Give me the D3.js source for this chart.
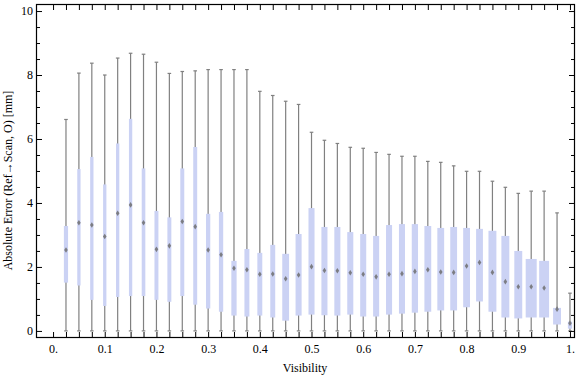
<!DOCTYPE html>
<html>
<head>
<meta charset="utf-8">
<script src="https://cdn.jsdelivr.net/npm/d3@7"></script>
<style>
  body { margin: 0; background: #fff; }
  text { font-family: "Liberation Serif", "Times New Roman", serif; }
</style>
</head>
<body>
<script>
// visibility positions of the 40 boxes
var visibility = d3.range(1, 41).map(function(k) { return +(k * 0.025).toFixed(3); });

var whiskerLow = visibility.map(function() { return 0; });
var whiskerHigh = [6.61, 8.06, 8.37, 8.00, 8.53, 8.68, 8.65, 8.40, 8.05, 8.11,
                   8.13, 8.17, 8.17, 8.17, 8.17, 7.49, 7.36, 7.18, 7.08, 6.21,
                   5.96, 5.86, 5.74, 5.71, 5.58, 5.52, 5.46, 5.46, 5.30, 5.27,
                   5.16, 4.99, 4.99, 4.68, 4.49, 4.30, 4.37, 4.37, 3.69, 1.18];
var q1 = [1.51, 1.42, 0.97, 0.78, 1.06, 1.09, 1.09, 0.97, 0.91, 1.09,
          0.82, 0.70, 0.60, 0.48, 0.45, 0.48, 0.42, 0.32, 0.48, 0.51,
          0.49, 0.48, 0.51, 0.45, 0.45, 0.51, 0.54, 0.57, 0.60, 0.64,
          0.64, 0.74, 0.92, 0.60, 0.42, 0.39, 0.42, 0.42, 0.20, 0.07];
var median = [2.53, 3.38, 3.31, 2.95, 3.68, 3.94, 3.38, 2.55, 2.66, 3.42,
              3.26, 2.53, 2.38, 1.96, 1.91, 1.77, 1.78, 1.63, 1.75, 2.01,
              1.89, 1.88, 1.82, 1.77, 1.69, 1.77, 1.79, 1.86, 1.91, 1.84,
              1.83, 2.03, 2.14, 1.83, 1.54, 1.38, 1.38, 1.34, 0.68, 0.24];
var q3 = [3.28, 5.06, 5.44, 4.58, 5.86, 6.63, 5.08, 3.75, 3.55, 5.08,
          5.75, 3.66, 3.72, 2.19, 2.56, 2.44, 2.69, 2.41, 3.03, 3.84,
          3.25, 3.25, 3.09, 3.03, 2.97, 3.31, 3.34, 3.34, 3.28, 3.22,
          3.25, 3.22, 3.19, 3.13, 2.97, 2.50, 2.25, 2.19, 0.72, 0.29];
// relative sample weight, shown as box width
var weight = [0.38, 0.30, 0.30, 0.30, 0.30, 0.30, 0.33, 0.36, 0.36, 0.36,
              0.36, 0.39, 0.39, 0.48, 0.45, 0.45, 0.45, 0.62, 0.55, 0.55,
              0.55, 0.55, 0.55, 0.55, 0.55, 0.55, 0.55, 0.57, 0.62, 0.62,
              0.62, 0.62, 0.62, 0.72, 0.72, 0.72, 1.00, 0.90, 0.72, 0.38];

var xTicks = d3.range(0, 41).map(function(k) { return +(k * 0.025).toFixed(3); });
var xLabels = { 0: "0.", 0.1: "0.1", 0.2: "0.2", 0.3: "0.3", 0.4: "0.4", 0.5: "0.5",
                0.6: "0.6", 0.7: "0.7", 0.8: "0.8", 0.9: "0.9", 1: "1." };
var yMajor = [0, 2, 4, 6, 8, 10];
var yMinor = d3.range(0, 21).map(function(k) { return k * 0.5; }).filter(function(v) { return v % 2 !== 0; });

var width = 576, height = 377;
var frame = { left: 36, right: 574, top: 4, bottom: 337 };

var svg = d3.select('body').append('svg')
    .attr('width', width)
    .attr('height', height);

var x = d3.scaleLinear().domain([-0.033, 1.0078]).range([frame.left, frame.right]);
var y = d3.scaleLinear().domain([-0.19, 10.22]).range([frame.bottom, frame.top]);
var w = d3.scaleLinear().domain([0, 1]).range([0, 11]);

var data = visibility.map(function(v, i) {
    return { v: v, lo: whiskerLow[i], q1: q1[i], med: median[i], q3: q3[i], hi: whiskerHigh[i], wt: weight[i] };
});

// boxes
var plot = svg.append('g').attr('id', 'plot');
var boxes = plot.selectAll('g.box').data(data).enter()
    .append('g').attr('class', 'box');

boxes.append('line')
    .attr('x1', function(d) { return x(d.v); })
    .attr('x2', function(d) { return x(d.v); })
    .attr('y1', function(d) { return y(d.lo); })
    .attr('y2', function(d) { return y(d.hi); })
    .attr('stroke', '#808080')
    .attr('stroke-width', 1.2);

boxes.selectAll('line.cap')
    .data(function(d) { return [{ v: d.v, val: d.lo }, { v: d.v, val: d.hi }]; })
    .enter().append('line')
    .attr('class', 'cap')
    .attr('x1', function(d) { return x(d.v) - 1.8; })
    .attr('x2', function(d) { return x(d.v) + 1.8; })
    .attr('y1', function(d) { return y(d.val); })
    .attr('y2', function(d) { return y(d.val); })
    .attr('stroke', '#808080')
    .attr('stroke-width', 1.2);

boxes.append('rect')
    .attr('x', function(d) { return x(d.v) - w(d.wt) / 2; })
    .attr('width', function(d) { return w(d.wt); })
    .attr('y', function(d) { return y(d.q3); })
    .attr('height', function(d) { return y(d.q1) - y(d.q3); })
    .attr('fill', '#cbd2f4');

boxes.append('path')
    .attr('d', function(d) {
        var cx = x(d.v), cy = y(d.med);
        return 'M' + (cx - 1.8) + ',' + cy + 'L' + cx + ',' + (cy - 2.8) +
               'L' + (cx + 1.8) + ',' + cy + 'L' + cx + ',' + (cy + 2.8) + 'Z';
    })
    .attr('fill', '#6f6f6f')
    .attr('opacity', 0.85);

// frame and axes
svg.append('rect')
    .attr('x', frame.left + 0.5)
    .attr('y', frame.top + 0.5)
    .attr('width', frame.right - frame.left)
    .attr('height', frame.bottom - frame.top)
    .attr('fill', 'none')
    .attr('stroke', '#000')
    .attr('stroke-width', 1.2);

function axisStyle(g) {
    g.select('.domain').remove();
    g.selectAll('.tick line').attr('stroke', '#000').attr('stroke-width', 1);
    g.selectAll('.tick text').attr('fill', '#000').style('font-size', '12px')
        .style('font-family', '"Liberation Serif", serif');
}

svg.append('g')
    .attr('transform', `translate(0, ${frame.bottom})`)
    .call(d3.axisBottom(x).tickValues(xTicks).tickSizeInner(-5).tickSizeOuter(0).tickPadding(7)
        .tickFormat(function(d) { return xLabels[d] !== undefined ? xLabels[d] : ''; }))
    .call(axisStyle);

svg.append('g')
    .attr('transform', `translate(0, ${frame.top + 1})`)
    .call(d3.axisTop(x).tickValues(xTicks).tickSizeInner(-5).tickSizeOuter(0).tickFormat(''))
    .call(axisStyle);

svg.append('g')
    .attr('transform', `translate(${frame.left + 1}, 0)`)
    .call(d3.axisLeft(y).tickValues(yMajor).tickSizeInner(-5).tickSizeOuter(0).tickPadding(4))
    .call(axisStyle);

svg.append('g')
    .attr('transform', `translate(${frame.left + 1}, 0)`)
    .call(d3.axisLeft(y).tickValues(yMinor).tickSizeInner(-3).tickSizeOuter(0).tickFormat(''))
    .call(axisStyle);

svg.append('g')
    .attr('transform', `translate(${frame.right}, 0)`)
    .call(d3.axisRight(y).tickValues(yMajor).tickSizeInner(-5).tickSizeOuter(0).tickFormat(''))
    .call(axisStyle);

svg.append('g')
    .attr('transform', `translate(${frame.right}, 0)`)
    .call(d3.axisRight(y).tickValues(yMinor).tickSizeInner(-3).tickSizeOuter(0).tickFormat(''))
    .call(axisStyle);

// axis titles
svg.append('text')
    .attr('x', (frame.left + frame.right) / 2)
    .attr('y', 372)
    .attr('text-anchor', 'middle')
    .style('font-size', '12px')
    .text('Visibility');

svg.append('text')
    .attr('transform', `translate(12, ${(frame.top + frame.bottom) / 2 + 10}) rotate(-90)`)
    .attr('text-anchor', 'middle')
    .style('font-size', '12px')
    .text('Absolute Error (Ref\u2192Scan, O) [mm]');
</script>
</body>
</html>
